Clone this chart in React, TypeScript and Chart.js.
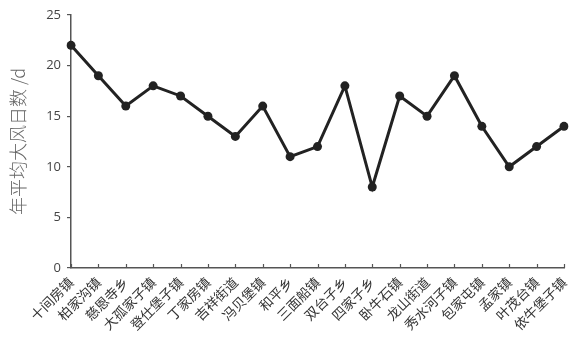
import React, { useEffect, useRef } from "react";
import { Chart, registerables } from "chart.js";

Chart.register(...registerables);

const categories = [
  "十间房镇", "柏家沟镇", "慈恩寺乡", "大孤家子镇", "登仕堡子镇", "丁家房镇", "吉祥街道",
  "冯贝堡镇", "和平乡", "三面船镇", "双台子乡", "四家子乡", "卧牛石镇", "龙山街道",
  "秀水河子镇", "包家屯镇", "孟家镇", "叶茂台镇", "依牛堡子镇",
];
const windDays = [22, 19, 16, 18, 17, 15, 13, 16, 11, 12, 18, 8, 17, 15, 19, 14, 10, 12, 14];
const yTicks = [0, 5, 10, 15, 20, 25];
const yTitle = "年平均大风日数 /d";

const innerTicks = {
  id: "innerTicks",
  afterDraw(chart: any) {
    const x = chart.scales.x;
    const ctx = chart.ctx;
    const y0 = chart.chartArea.bottom;
    ctx.save();
    ctx.strokeStyle = "#555";
    ctx.lineWidth = 1.2;
    categories.forEach((_, i) => {
      const px = Math.round(x.getPixelForValue(i)) + 0.5;
      ctx.beginPath();
      ctx.moveTo(px, y0);
      ctx.lineTo(px, y0 - 4);
      ctx.stroke();
    });
    ctx.restore();
  },
};

export default function App() {
  const ref = useRef<HTMLCanvasElement>(null);
  useEffect(() => {
    if (!ref.current) return;
    const chart = new Chart(ref.current, {
      type: "line",
      data: {
        labels: categories,
        datasets: [
          {
            data: windDays,
            borderColor: "#222",
            backgroundColor: "#222",
            borderWidth: 3,
            pointRadius: 4.5,
            pointBackgroundColor: "#222",
            pointBorderWidth: 0,
            tension: 0,
          },
        ],
      },
      options: {
        animation: false,
        responsive: false,
        maintainAspectRatio: false,
        layout: { padding: { left: 0, right: 9, top: 15, bottom: 0 } },
        plugins: { legend: { display: false }, tooltip: { enabled: false } },
        scales: {
          x: {
            offset: false,
            grid: { display: false, drawTicks: false },
            border: { display: true, color: "#555", width: 1.5 },
            ticks: {
              autoSkip: false,
              maxRotation: 45,
              minRotation: 45,
              padding: 6,
              color: "#333",
              font: { family: "'Noto Sans CJK SC'", size: 13.5 },
            },
            afterFit: (s: any) => {
              s.height = 71;
              s.paddingRight = 0;
              s.paddingLeft = 0;
            },
          },
          y: {
            min: 0,
            max: 25,
            afterBuildTicks: (s: any) => {
              s.ticks = yTicks.map((v) => ({ value: v }));
            },
            grid: { drawOnChartArea: false, drawTicks: true, tickLength: 4, color: "#555", lineWidth: 1.2 },
            border: { display: true, color: "#555", width: 1.5 },
            ticks: {
              padding: 6,
              color: "#444",
              font: { family: "'Open Sans'", size: 13 },
            },
            title: {
              display: true,
              text: yTitle,
              color: "#666",
              font: { family: "'Noto Sans CJK SC'", size: 18, weight: "300" },
              padding: { top: 7, bottom: 4 },
            },
            afterFit: (s: any) => {
              s.width = 71;
            },
          },
        },
      },
      plugins: [innerTicks],
    });
    return () => chart.destroy();
  }, []);
  return (
    <div style={{ position: "fixed", left: 0, top: 0, width: 573, height: 339, background: "#fff" }}>
      <canvas ref={ref} width={573} height={339} style={{ width: 573, height: 339 }} />
    </div>
  );
}
